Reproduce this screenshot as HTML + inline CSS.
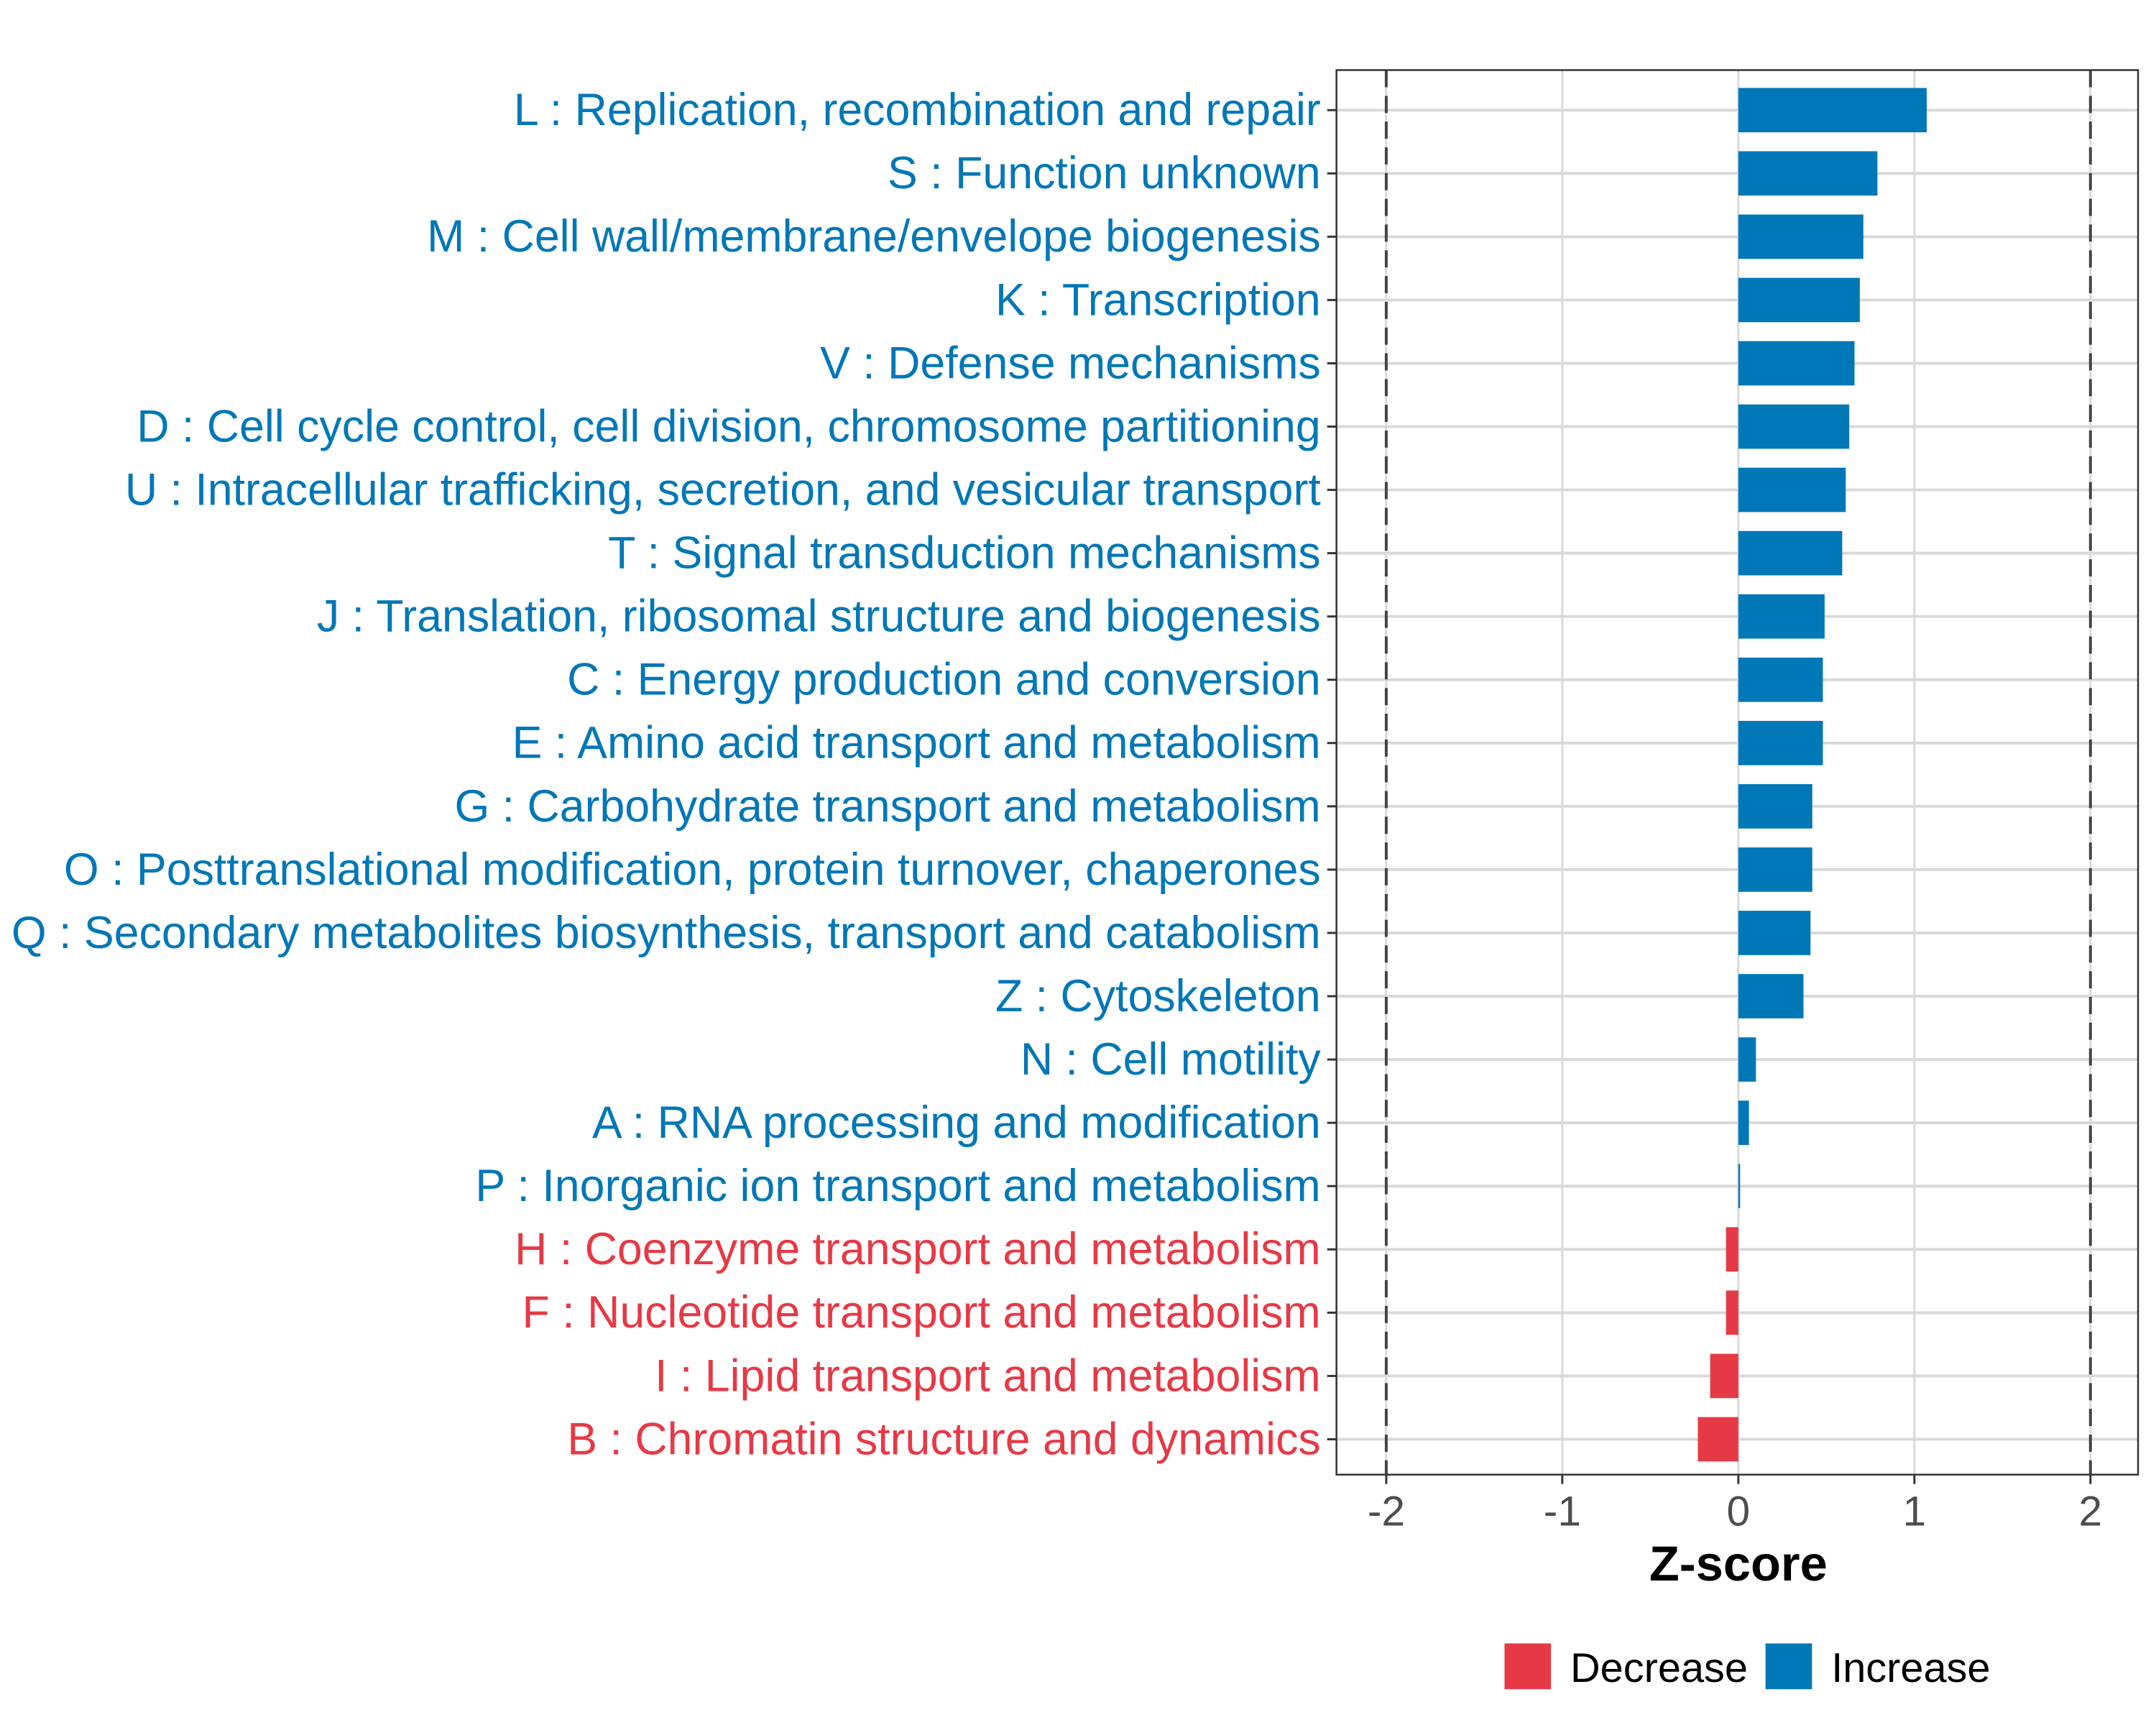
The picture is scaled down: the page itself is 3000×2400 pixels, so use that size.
<!DOCTYPE html>
<html><head><meta charset="utf-8"><style>
html,body{margin:0;padding:0;background:#fff;}
svg{display:block;font-family:"Liberation Sans",Arial,sans-serif;}
</style></head><body>
<svg id="chart" xmlns="http://www.w3.org/2000/svg" width="3000" height="2400" viewBox="0 0 3000 2400">
<rect x="0" y="0" width="3000" height="2400" fill="#fff"/>
<g transform="scale(0.995)">
<g id="grid"></g>
<g id="bars"></g>
<g id="refs"></g>
<rect x="1869" y="98" width="1121" height="1964" fill="none" stroke="#333" stroke-width="2.5"/>
<g id="ylabels"></g>
<g id="xticks"></g>
<text x="2431" y="2210" text-anchor="middle" font-size="69" font-weight="bold" fill="#000">Z-score</text>
<g>
<rect x="2104" y="2298" width="65" height="64" fill="#E63946"/>
<text x="2196" y="2352" font-size="58" fill="#000">Decrease</text>
<rect x="2469" y="2298" width="65" height="64" fill="#0077B6"/>
<text x="2561" y="2352" font-size="58" fill="#000">Increase</text>
</g>
</g>
</svg>
<script>
const categories = ["L : Replication, recombination and repair","S : Function unknown","M : Cell wall/membrane/envelope biogenesis","K : Transcription","V : Defense mechanisms","D : Cell cycle control, cell division, chromosome partitioning","U : Intracellular trafficking, secretion, and vesicular transport","T : Signal transduction mechanisms","J : Translation, ribosomal structure and biogenesis","C : Energy production and conversion","E : Amino acid transport and metabolism","G : Carbohydrate transport and metabolism","O : Posttranslational modification, protein turnover, chaperones","Q : Secondary metabolites biosynthesis, transport and catabolism","Z : Cytoskeleton","N : Cell motility","A : RNA processing and modification","P : Inorganic ion transport and metabolism","H : Coenzyme transport and metabolism","F : Nucleotide transport and metabolism","I : Lipid transport and metabolism","B : Chromatin structure and dynamics"];
const zscores = [1.07,0.79,0.71,0.69,0.66,0.63,0.61,0.59,0.49,0.48,0.48,0.42,0.42,0.41,0.37,0.10,0.06,0.01,-0.07,-0.07,-0.16,-0.23];
const xTicks = [-2,-1,0,1,2];
const xTickLabels = ["-2","-1","0","1","2"];
const refValues = [-2,2];

const NS="http://www.w3.org/2000/svg";
const X0=2431, UNIT=246.2;
const x = v => X0 + v*UNIT;
const Y0=154, STEP=88.5;
const y = i => Y0 + i*STEP;
const BAR_H=62;
const BLUE="#0077B6", RED="#E63946";
function mk(tag, attrs, parent){const e=document.createElementNS(NS,tag);for(const k in attrs)e.setAttribute(k,attrs[k]);parent.appendChild(e);return e;}
const grid=document.getElementById('grid'), bars=document.getElementById('bars'), refs=document.getElementById('refs'), yl=document.getElementById('ylabels'), xt=document.getElementById('xticks');
xTicks.forEach((t,i)=>{
  const g=mk('line',{x1:x(t),x2:x(t),y1:98,y2:2062,stroke:'#d9d9d9','stroke-width':3},grid);
  
  
  const tk=mk('line',{x1:x(t),x2:x(t),y1:2062,y2:2075,stroke:'#333','stroke-width':3},xt);
  
  
  const tl=mk('text',{x:x(t),y:2133,'text-anchor':'middle','font-size':59,fill:'#4d4d4d'},xt);
  tl.textContent=xTickLabels[i];
  
  
});
categories.forEach((c,i)=>{
  const gl=mk('line',{x1:1869,x2:2990,y1:y(i),y2:y(i),stroke:'#d9d9d9','stroke-width':4},grid);
  
  
  const v=zscores[i], col=v<0?RED:BLUE;
  const r=mk('rect',{x:Math.min(x(0),x(v)),y:y(i)-BAR_H/2,width:Math.max(Math.abs(x(v)-x(0)),2),height:BAR_H,fill:col},bars);
  
  
  const tk=mk('line',{x1:1856,x2:1869,y1:y(i),y2:y(i),stroke:'#333','stroke-width':3},yl);
  
  
  const t=mk('text',{x:1847,y:y(i)+21,'text-anchor':'end','font-size':63,fill:col},yl);
  t.textContent=c;
  
  
});
refValues.forEach(v=>{
  const l=mk('line',{x1:x(v),x2:x(v),y1:98,y2:2062,stroke:'#444','stroke-width':4,'stroke-dasharray':'24,12'},refs);
  
  
});
</script>
</body></html>
